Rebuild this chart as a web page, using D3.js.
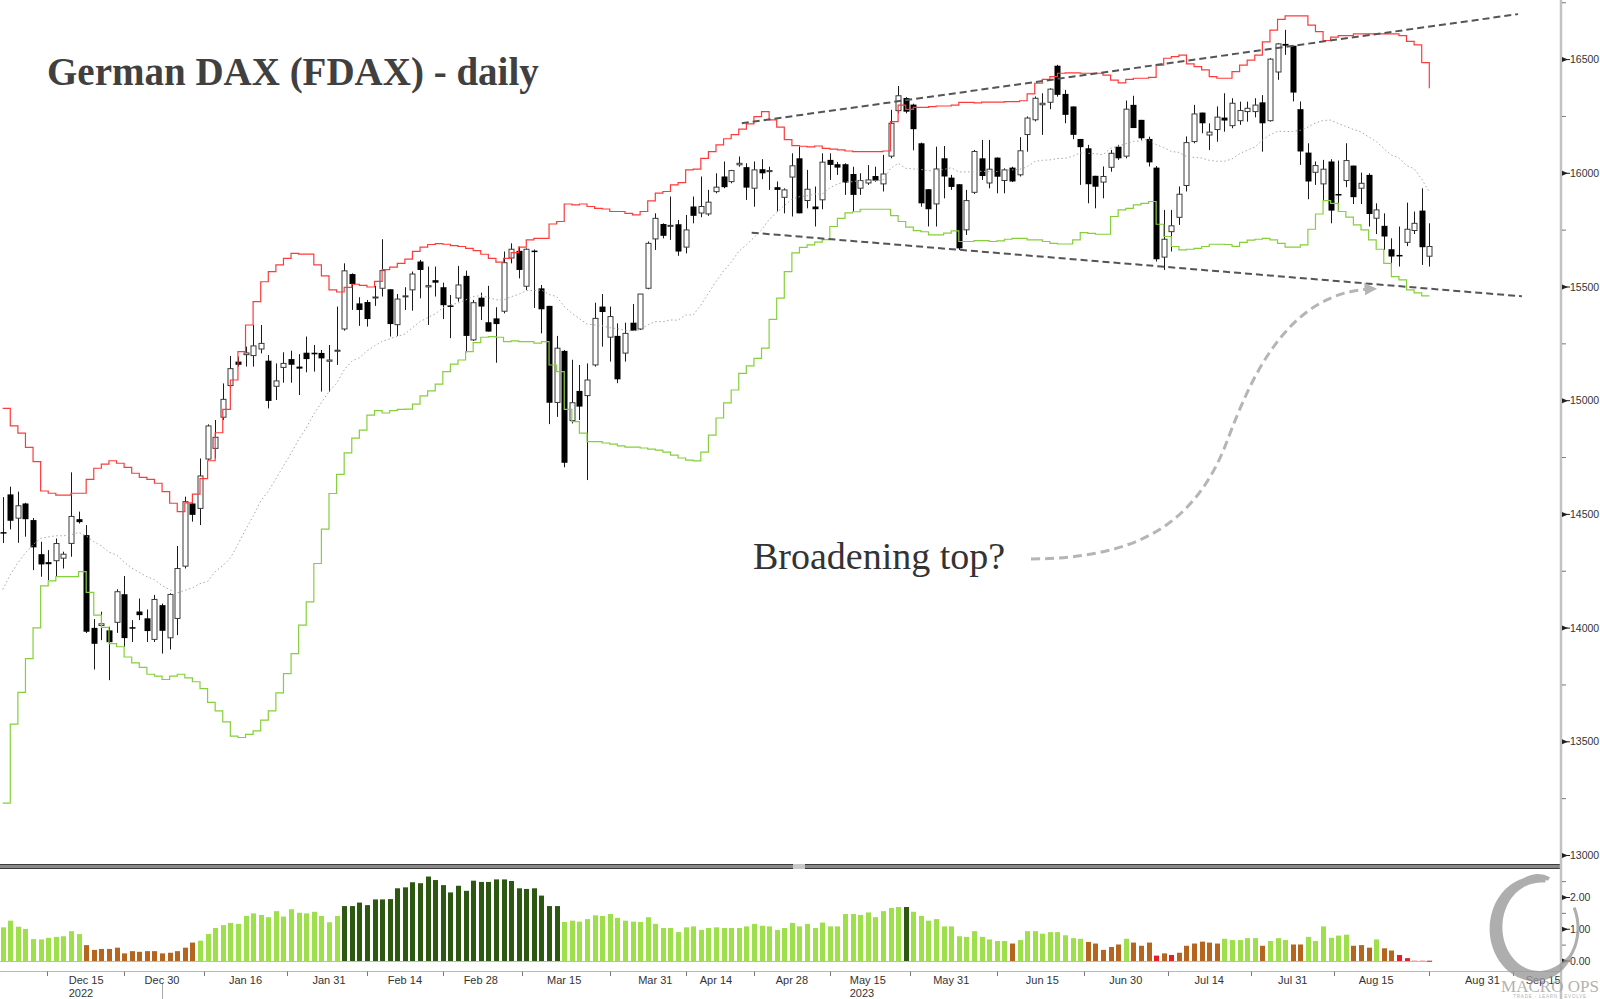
<!DOCTYPE html>
<html><head><meta charset="utf-8">
<script src="https://cdn.jsdelivr.net/npm/d3@7"></script>
<style>html,body{margin:0;padding:0;background:#fff;} svg{display:block;}</style>
</head><body>
<svg id="chart" width="1600" height="999"></svg>
<script>
// ---------- DATA (daily FDAX bars, oldest first) ----------
const openP = [14422,14588,14479,14548,14475,14325,14290,14292,14303,14368,
14479,14409,14001,14007,13990,14021,14149,14004,14073,14043,
13946,14101,13953,14038,14268,14548,14522,14739,14786,14923,
15062,15172,15198,15194,15223,15176,15059,15142,15183,15150,
15211,15211,15210,15169,15213,15311,15557,15428,15434,15453,
15490,15490,15330,15459,15483,15612,15496,15530,15499,15419,
15447,15549,15263,15453,15345,15362,15389,15623,15659,15499,
15660,15494,15417,14988,15219,14908,15043,15018,15153,15414,
15275,15285,15205,15343,15311,15490,15707,15777,15769,15776,
15671,15854,15821,15817,15915,15986,15959,16033,16027,15930,
16018,16003,15939,15890,15979,16066,15876,15854,15879,16059,
16040,16040,15997,15930,15953,15988,15949,16071,16271,16331,
16302,16132,15930,15861,16066,15981,15952,15747,15912,16066,
15953,16069,15964,16025,15989,16166,16231,16297,16308,16473,
16349,16294,16151,16110,15989,15957,16022,16117,16071,16301,
16235,16151,16025,15627,15739,15802,15942,16135,16267,16164,
16188,16245,16205,16227,16267,16267,16312,16227,16441,16569,
16561,16282,16091,16000,15949,16052,15909,15964,16034,15930,
15993,15798,15769,15666,15641,15692,15744,15836,15631];
const highP = [14576,14622,14600,14551,14484,14380,14343,14394,14336,14685,
14512,14453,14040,14072,14006,14171,14229,14035,14130,14082,
14146,14108,14153,14361,14578,14563,14746,14896,14915,15076,
15197,15194,15238,15333,15333,15201,15164,15213,15220,15205,
15282,15245,15223,15245,15414,15604,15560,15455,15443,15505,
15710,15490,15469,15499,15568,15619,15590,15590,15519,15465,
15593,15572,15443,15475,15505,15411,15656,15692,15678,15670,
15665,15509,15417,15285,15223,15180,15157,15164,15431,15469,
15414,15340,15343,15425,15469,15700,15824,15780,15898,15795,
15817,15898,15986,15927,16000,16052,16015,16074,16044,16052,
16062,16029,15964,15934,16088,16117,16015,15942,16088,16088,
16050,16044,16029,16000,16036,16029,16081,16279,16384,16335,
16306,16135,15930,16117,16120,15993,15952,15927,16103,16147,
16147,16070,16022,16029,16159,16250,16338,16352,16374,16477,
16367,16294,16151,16125,15989,16030,16103,16125,16320,16341,
16235,16161,16032,15839,15839,15942,16162,16301,16267,16220,
16294,16352,16330,16315,16315,16330,16344,16506,16573,16631,
16561,16316,16132,16052,16059,16062,16056,16132,16034,16003,
16000,15868,15824,15714,15766,15871,15832,15934,15780];
const lowP = [14374,14434,14375,14402,14255,14226,14211,14226,14262,14314,
14460,13978,13818,13947,13771,13979,13918,13939,14035,13939,
13939,13888,13906,13969,14262,14468,14453,14739,14747,14915,
15055,15150,15150,15150,15208,14966,15003,15079,15079,15025,
15125,15128,15040,15040,15157,15308,15399,15329,15326,15417,
15458,15282,15285,15399,15396,15450,15333,15458,15359,15275,
15436,15213,15263,15355,15304,15167,15384,15604,15538,15487,
15408,15296,14897,14929,14707,14900,14915,14651,15150,15238,
15172,15077,15172,15308,15311,15490,15663,15714,15707,15637,
15648,15780,15807,15813,15912,15934,15956,16029,15883,15853,
15974,15927,15832,15824,15810,15824,15846,15766,15842,15971,
15993,15905,15832,15905,15949,15963,15920,16066,16264,16264,
16101,15853,15766,15766,15890,15927,15663,15729,15909,15971,
15934,15912,15912,15962,15986,16095,16228,16169,16282,16337,
16220,16150,15949,15868,15846,15890,16007,16059,16066,16199,
16147,16030,15612,15575,15656,15773,15920,16132,16176,16102,
16139,16183,16198,16213,16227,16246,16095,16227,16411,16521,
16316,16037,15886,15949,15883,15780,15839,15939,15865,15865,
15766,15733,15663,15582,15590,15680,15733,15597,15590];
const closeP = [14418,14472,14538,14479,14355,14280,14281,14372,14325,14491,
14466,13984,13931,14019,13938,14160,13956,14000,14057,13987,
14126,13988,14148,14262,14556,14498,14669,14889,14839,15006,
15141,15158,15210,15241,15252,14999,15087,15164,15158,15141,
15183,15204,15186,15179,15222,15571,15513,15399,15359,15456,
15572,15337,15447,15461,15557,15575,15506,15519,15420,15413,
15509,15285,15431,15414,15304,15337,15607,15666,15575,15666,
15654,15402,14991,15231,14727,14991,14974,15091,15362,15390,
15370,15094,15296,15308,15469,15692,15802,15725,15771,15656,
15751,15813,15854,15873,15939,15939,16012,16044,15937,16015,
16000,16012,15927,15927,16033,15824,15930,15842,16049,16037,
16025,15959,15905,15968,15971,15968,15997,16220,16341,16271,
16194,15868,15842,16019,15986,15940,15670,15880,16096,15988,
16018,15985,16015,15964,16099,16243,16330,16308,16370,16345,
16257,16169,16115,15952,15941,15986,16088,16066,16282,16199,
16154,16048,15622,15710,15769,15908,16135,16261,16220,16181,
16247,16232,16308,16276,16286,16300,16220,16502,16569,16561,
16355,16096,15964,16034,16018,15836,15905,16056,15895,15956,
15821,15839,15722,15634,15640,15754,15780,15675,15678];
// Bollinger bands (20d, 2 sd) as drawn
const upperBand = [14966,14889,14857,14795,14732,14603,14593,14585,14585,14593,
14593,14654,14703,14721,14736,14725,14707,14681,14663,14654,
14637,14600,14549,14512,14551,14589,14657,14736,14859,14962,
15091,15216,15333,15436,15523,15568,15597,15626,15648,15645,
15645,15597,15549,15487,15478,15498,15512,15507,15500,15525,
15576,15587,15604,15623,15657,15675,15687,15691,15688,15682,
15678,15670,15660,15644,15626,15609,15626,15651,15675,15707,
15714,15714,15777,15788,15865,15861,15865,15854,15846,15843,
15832,15832,15824,15817,15832,15879,15913,15920,15949,15959,
16015,16018,16066,16095,16125,16152,16170,16194,16217,16249,
16271,16235,16203,16148,16122,16119,16116,16120,16110,16106,
16103,16098,16095,16095,16095,16095,16098,16227,16300,16281,
16290,16290,16293,16296,16296,16300,16312,16312,16310,16313,
16313,16313,16315,16315,16319,16349,16396,16413,16425,16440,
16442,16442,16440,16440,16440,16432,16410,16398,16413,16418,
16418,16422,16476,16506,16513,16520,16481,16469,16455,16425,
16418,16418,16447,16476,16498,16520,16578,16630,16677,16692,
16692,16692,16652,16623,16584,16599,16605,16605,16613,16613,
16613,16613,16613,16613,16605,16580,16565,16487,16374];
const lowerBand = [13230,13578,13717,13866,14001,14186,14208,14226,14226,14226,
14248,14157,14057,14003,13932,13918,13873,13847,13827,13797,
13789,13774,13789,13797,13781,13764,13734,13673,13636,13588,
13525,13519,13533,13548,13595,13636,13715,13800,13888,14013,
14115,14284,14435,14592,14676,14771,14835,14871,14937,14956,
14946,14956,14962,14963,14985,15021,15043,15073,15128,15161,
15179,15216,15255,15279,15282,15279,15260,15263,15260,15260,
15253,15260,15157,15128,14962,14908,14857,14820,14820,14814,
14809,14801,14796,14796,14792,14787,14783,14774,14761,14748,
14739,14735,14774,14849,14924,14990,15047,15120,15153,15186,
15231,15358,15451,15568,15650,15674,15685,15697,15708,15766,
15802,15826,15831,15842,15842,15842,15842,15814,15788,15763,
15748,15743,15729,15729,15737,15747,15700,15700,15704,15704,
15700,15703,15710,15714,15714,15707,15707,15700,15692,15689,
15689,15707,15739,15736,15732,15732,15810,15839,15846,15861,
15868,15876,15776,15722,15678,15663,15666,15670,15678,15688,
15688,15687,15679,15696,15706,15710,15714,15707,15692,15675,
15675,15685,15754,15821,15880,15868,15832,15807,15773,15751,
15707,15666,15604,15546,15531,15487,15474,15461,15461];
const midBand = [14170,14234,14287,14331,14367,14395,14401,14406,14406,14410,
14421,14406,14380,14362,14334,14322,14290,14264,14245,14226,
14213,14187,14169,14155,14166,14177,14196,14205,14248,14275,
14308,14368,14433,14492,14559,14602,14656,14713,14768,14829,
14880,14941,14992,15040,15077,15135,15174,15189,15219,15241,
15261,15272,15283,15293,15321,15348,15365,15382,15408,15422,
15429,15443,15458,15462,15454,15444,15443,15457,15468,15484,
15484,15487,15467,15458,15414,15385,15361,15337,15333,15329,
15321,15317,15310,15307,15312,15333,15348,15347,15355,15354,
15377,15377,15420,15472,15525,15571,15609,15657,15685,15718,
15751,15797,15827,15858,15886,15897,15901,15909,15909,15936,
15953,15962,15963,15969,15969,15969,15970,16021,16044,16022,
16019,16017,16011,16013,16017,16024,16006,16006,16007,16009,
16007,16008,16013,16015,16017,16028,16052,16057,16059,16065,
16066,16075,16090,16088,16086,16082,16110,16119,16130,16140,
16143,16149,16126,16114,16096,16092,16074,16070,16067,16057,
16053,16053,16063,16086,16102,16115,16146,16169,16185,16184,
16184,16189,16203,16222,16232,16234,16219,16206,16193,16182,
16160,16140,16109,16080,16068,16034,16020,15974,15918];
// lower-panel indicator
const indicator = [1.06,1.27,1.08,1.01,0.69,0.68,0.73,0.76,0.78,0.94,0.85,
0.50,0.35,0.38,0.38,0.42,0.24,0.31,0.29,0.31,0.31,0.24,0.26,0.31,0.42,0.58,
0.64,0.85,1.04,1.13,1.20,1.17,1.42,1.50,1.45,1.38,1.57,1.40,1.63,1.52,1.50,1.55,1.42,1.22,1.42,
1.73,1.73,1.84,1.76,1.94,1.94,1.95,2.29,2.32,2.48,2.45,2.66,2.55,2.39,2.16,2.37,2.21,2.53,2.49,2.49,2.57,2.57,2.52,2.29,2.27,2.29,2.06,1.73,1.73,
1.23,1.27,1.24,1.32,1.44,1.42,1.48,1.36,1.27,1.24,1.23,1.38,1.17,1.04,1.04,0.91,1.06,1.09,0.98,1.04,1.06,1.04,1.04,1.04,1.09,1.17,1.11,1.09,0.98,1.04,1.20,1.09,
1.17,1.04,1.21,1.09,1.09,1.48,1.48,1.45,1.53,1.38,1.57,1.67,1.70,1.70,1.55,1.42,1.27,1.32,1.09,1.09,
0.78,0.76,0.94,0.76,0.68,0.63,0.63,0.55,0.66,0.94,0.94,0.86,0.91,0.91,0.81,0.72,0.70,0.60,0.55,0.35,
0.44,0.52,0.70,0.58,0.48,0.58,0.17,0.24,0.19,0.26,0.48,0.55,0.61,0.58,0.55,0.70,0.66,0.66,0.72,0.72,
0.48,0.63,0.72,0.66,0.52,0.52,0.76,0.63,1.09,0.73,0.80,0.83,0.48,0.50,0.42,0.68,0.40,0.33,0.19,0.09,
0.02,0.02,0.01];
// indicator colour state runs: G light green, D dark green, B brown, R red, P pink
const stateRuns = [["G",11],["B",15],["G",19],["D",29],["G",45],["D",1],["G",13],["B",1],["G",9],
["B",5],["G",1],["B",3],["R",1],["B",1],["R",1],["B",6],["G",5],["B",1],["G",3],["B",2],
["G",6],["B",3],["G",1],["B",2],["R",2],["P",2],["R",1]];
const xLabels = ["Dec 15","Dec 30","Jan 16","Jan 31","Feb 14","Feb 28","Mar 15","Mar 31","Apr 14","Apr 28",
"May 15","May 31","Jun 15","Jun 30","Jul 14","Jul 31","Aug 15","Aug 31","Sep 15"];
const xLabelBar = [11,21,32,43,53,63,74,86,94,104,114,125,137,148,159,170,181,195,203];
const yearLabels = [["2022",0],["2023",10]]; // [text, index into xLabels]
const yTicks = [13000,13500,14000,14500,15000,15500,16000,16500];
const yMinor = [13250,13750,14250,14750,15250,15750,16250,16750];
const iTicks = [0,1,2];
const iMinor = [0.5,1.5,2.5];
// drawn trendlines [bar, price]
const trendUpper = [[97.4,16220],[199.7,16700]];
const trendLower = [[98.7,15739],[200.2,15459]];

// ---------- CHART ----------
const svg = d3.select('#chart');
svg.append('rect').attr('width',1600).attr('height',999).attr('fill','#fff');
const N = closeP.length;
const AX = 1561;
const x = d3.scaleLinear().domain([0, N-1]).range([2.7, 1429.3]);
const y = d3.scaleLinear().domain([13000, 16500]).range([855.5, 59.6]);
const yi = d3.scaleLinear().domain([0, 2]).range([961, 897.5]);

const defs = svg.append('defs');
defs.append('clipPath').attr('id','mainClip').append('rect').attr('x',0).attr('y',0).attr('width',AX-1).attr('height',862);
defs.append('marker').attr('id','arrowHead').attr('viewBox','0 0 10 10').attr('refX',6).attr('refY',5)
  .attr('markerWidth',4.2).attr('markerHeight',4.2).attr('orient','auto').attr('markerUnits','strokeWidth')
  .append('path').attr('d','M0,0 L10,5 L0,10 z').attr('fill','#b5b5b5');

const g = svg.append('g').attr('clip-path','url(#mainClip)');

// candles
const cg = g.append('g');
for (let i = 0; i < N; i++) {
  const cx = Math.round(x(i)) + 0.5;
  const o = openP[i], c = closeP[i];
  cg.append('line').attr('x1',cx).attr('x2',cx).attr('y1',y(highP[i])).attr('y2',y(lowP[i]))
    .attr('stroke','#1a1a1a').attr('stroke-width',1);
  const top = y(Math.max(o,c)), bot = y(Math.min(o,c));
  const h = Math.max(bot - top, 1.5);
  if (c < o) {
    cg.append('rect').attr('x',cx-3).attr('y',top).attr('width',6).attr('height',h).attr('fill','#000');
  } else {
    cg.append('rect').attr('x',cx-2.5).attr('y',top).attr('width',5).attr('height',Math.max(h-1,1))
      .attr('fill','#fff').attr('stroke','#3a3a3a').attr('stroke-width',1);
  }
}

// bands
const stepLine = d3.line().x((d,i)=>x(i)).y(d=>y(d)).curve(d3.curveStepAfter);
const plainLine = d3.line().x((d,i)=>x(i)).y(d=>y(d));
g.append('path').datum(midBand).attr('d',plainLine).attr('fill','none')
  .attr('stroke','#a8a8a8').attr('stroke-width',1).attr('stroke-dasharray','1.5,2.5');
g.append('path').datum(upperBand).attr('d',stepLine).attr('fill','none')
  .attr('stroke','#ff3a3a').attr('stroke-width',1.2);
g.append('path').datum(lowerBand).attr('d',stepLine).attr('fill','none')
  .attr('stroke','#85d03a').attr('stroke-width',1.2);

// trendlines
const tl = d3.line().x(d=>x(d[0])).y(d=>y(d[1]));
[trendUpper, trendLower].forEach(t => {
  g.append('path').datum(t).attr('d',tl).attr('fill','none').attr('stroke','#555')
    .attr('stroke-width',2).attr('stroke-dasharray','7,4');
});

// title & annotation
svg.append('text').attr('x',47).attr('y',85).text('German DAX (FDAX) - daily')
  .attr('font-family','"Liberation Serif", "Times New Roman", serif').attr('font-weight','bold')
  .attr('font-size',39).attr('fill','#404040');
svg.append('text').attr('x',753).attr('y',569).text('Broadening top?')
  .attr('font-family','"Liberation Serif", "Times New Roman", serif')
  .attr('font-size',38).attr('fill','#333');
svg.append('path').attr('d','M1031,559 C1130,558 1190,530 1224,449 C1245,395 1280,292 1372,289')
  .attr('fill','none').attr('stroke','#b5b5b5').attr('stroke-width',3).attr('stroke-dasharray','9,5')
  .attr('marker-end','url(#arrowHead)');

// panel separator
svg.append('rect').attr('x',0).attr('y',864).attr('width',AX).attr('height',5).attr('fill','#8a8a8a');
svg.append('line').attr('x1',0).attr('x2',AX).attr('y1',864.5).attr('y2',864.5).attr('stroke','#3c3c3c');
svg.append('line').attr('x1',0).attr('x2',AX).attr('y1',868.5).attr('y2',868.5).attr('stroke','#3c3c3c');
svg.append('rect').attr('x',793).attr('y',864).attr('width',12).attr('height',5).attr('fill','#c8c8c8');

// lower panel bars
const states = [];
stateRuns.forEach(r => { for (let k = 0; k < r[1]; k++) states.push(r[0]); });
const stateColor = {G:'#9ee04c', D:'#2c5811', B:'#b5651d', R:'#ec1c24', P:'#f6a8a8'};
svg.append('line').attr('x1',x(0)-3).attr('x2',x(N-1)+3).attr('y1',yi(0)+0.5).attr('y2',yi(0)+0.5)
  .attr('stroke','#d9b48c').attr('stroke-width',1);
svg.append('g').selectAll('rect').data(indicator).join('rect')
  .attr('x',(d,i)=>Math.round(x(i))-2).attr('width',5)
  .attr('y',d=>yi(d)).attr('height',d=>Math.max(yi(0)-yi(d),1))
  .attr('fill',(d,i)=>stateColor[states[i]]);

// x axis (bottom)
svg.append('line').attr('x1',0).attr('x2',AX).attr('y1',971.5).attr('y2',971.5).attr('stroke','#b8b8b8');
const tickBars = [xLabelBar[0] - 5.2];
for (let k = 0; k < xLabelBar.length - 1; k++) tickBars.push((xLabelBar[k] + xLabelBar[k+1]) / 2);
svg.append('g').selectAll('line').data(tickBars).join('line')
  .attr('x1',d=>Math.round(x(d))+0.5).attr('x2',d=>Math.round(x(d))+0.5)
  .attr('y1',971.5).attr('y2',976).attr('stroke','#777');
const labelNodes = [];
xLabels.forEach((t,k) => {
  const n = svg.append('text').attr('x',x(xLabelBar[k])).attr('y',983.5).attr('text-anchor','middle')
    .attr('font-family','"Liberation Sans", Arial, sans-serif').attr('font-size',11).attr('fill','#333').text(t);
  labelNodes.push(n);
});
yearLabels.forEach(([t,k]) => {
  const bb = labelNodes[k].node().getBBox();
  svg.append('text').attr('x',bb.x).attr('y',997).attr('font-family','"Liberation Sans", Arial, sans-serif')
    .attr('font-size',11).attr('fill','#333').text(t);
});
svg.append('line').attr('x1',Math.round(x(xLabelBar[1]))+0.5).attr('x2',Math.round(x(xLabelBar[1]))+0.5)
  .attr('y1',984).attr('y2',999).attr('stroke','#aaa');

// right axis
svg.append('line').attr('x1',AX).attr('x2',AX).attr('y1',0).attr('y2',999).attr('stroke','#c2c2c2').attr('stroke-width',2.5);
function majorTick(yy, label) {
  svg.append('path').attr('d',`M${AX+1},${yy-2.5} L${AX+7},${yy} L${AX+1},${yy+2.5} Z`).attr('fill','#222');
  svg.append('line').attr('x1',AX+1).attr('x2',AX+9).attr('y1',yy).attr('y2',yy).attr('stroke','#222');
  svg.append('text').attr('x',AX+9).attr('y',yy).attr('dy','0.35em').attr('font-family','"Liberation Sans", Arial, sans-serif')
    .attr('font-size',10.5).attr('fill','#333').text(label);
}
function minorTick(yy) {
  svg.append('line').attr('x1',AX+1).attr('x2',AX+5).attr('y1',yy).attr('y2',yy).attr('stroke','#777');
}
yTicks.forEach(v => majorTick(y(v), d3.format('d')(v)));
yMinor.forEach(v => minorTick(y(v)));
iTicks.forEach(v => majorTick(yi(v), d3.format('.2f')(v)));
iMinor.forEach(v => minorTick(yi(v)));

// watermark logo (brush-stroke ring + name)
const lg = svg.append('g').attr('opacity',0.8);
const cxL = 1537, cyL = 928, rx = 41, ry = 48;
const a0 = -78 * Math.PI/180, a1 = -385 * Math.PI/180;
const steps = 90, outer = [], inner = [];
for (let k = 0; k <= steps; k++) {
  const f = k / steps, a = a0 + (a1 - a0) * f;
  const w = 3 + 10 * Math.pow(Math.sin(Math.PI * Math.min(1, f * 1.25)), 0.7);
  outer.push([cxL + (rx + w/2) * Math.cos(a), cyL + (ry + w/2) * Math.sin(a)]);
  inner.push([cxL + (rx - w/2) * Math.cos(a), cyL + (ry - w/2) * Math.sin(a)]);
}
lg.append('path').attr('d', d3.line()(outer.concat(inner.reverse())) + 'Z').attr('fill','#9a9a9a');
lg.append('path').attr('d',`M${cxL-14},${cyL-ry+1} q14,-9 26,-2`).attr('fill','none').attr('stroke','#9a9a9a').attr('stroke-width',4);
lg.append('text').attr('x',1550).attr('y',992).attr('text-anchor','middle').attr('font-family','"Liberation Serif", serif')
  .attr('font-size',17).attr('fill','#a0a0a0').text('MACRO OPS');
lg.append('text').attr('x',1550).attr('y',998).attr('text-anchor','middle').attr('font-family','"Liberation Sans", sans-serif')
  .attr('font-size',4.5).attr('letter-spacing',0.8).attr('fill','#a0a0a0').text('TRADE · LEARN · EVOLVE');
</script>
</body></html>
